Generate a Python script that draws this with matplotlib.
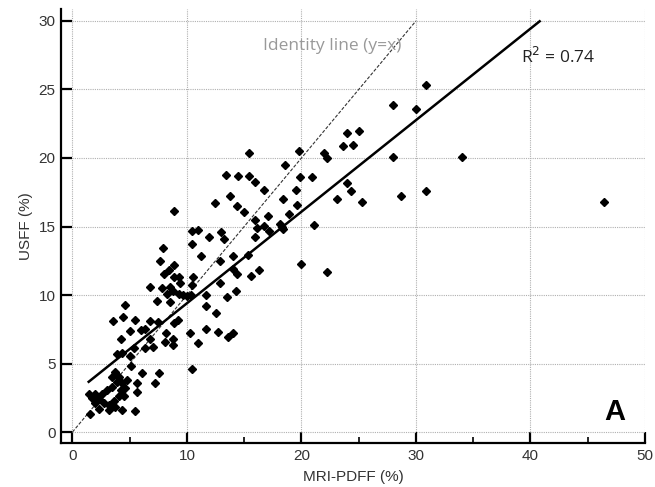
import numpy as np
import matplotlib
matplotlib.use("Agg")
import matplotlib.pyplot as plt
from matplotlib.ticker import MultipleLocator

# MRI-PDFF (%) vs USFF (%)
mri_pdff = [
    30.9, 28.0, 30.0, 24.0, 25.05, 23.65, 24.47, 28.0, 34.0, 24.0,
    24.3, 23.1, 25.25, 28.7, 30.9, 46.4, 15.46, 19.8, 22.0, 22.2,
    18.57, 14.5, 15.4, 13.4, 15.95, 16.7, 19.9, 20.95, 19.5, 13.8,
    18.4, 19.6, 14.4, 15.0, 18.95, 15.95, 17.06, 18.1, 16.1, 16.7,
    17.2, 18.4, 21.1, 15.9, 18.3, 8.9, 12.47, 10.4, 10.96, 11.97,
    13.0, 13.25, 7.9, 10.4, 7.67, 8.9, 11.25, 12.9, 13.98, 7.96,
    8.46, 8.83, 9.35, 10.5, 14.0, 14.35, 15.3, 9.4, 6.8, 7.8,
    8.5, 8.8, 7.4, 8.5, 9.27, 9.65, 10.0, 10.37, 10.4, 11.7,
    12.9, 13.5, 14.3, 11.7, 12.55, 6.8, 7.5, 8.9, 9.2, 10.3,
    11.7, 12.75, 13.6, 14.0, 8.2, 8.1, 8.8, 11.0, 15.6, 16.3,
    20.0, 22.26, 10.4, 8.25, 4.56, 4.4, 3.5, 5.5, 5.06, 6.0,
    6.36, 4.2, 6.8, 5.4, 7.0, 8.75, 3.9, 4.33, 5.06, 6.3,
    5.1, 6.07, 7.24, 5.64, 5.64, 5.5, 3.75, 3.46, 4.04, 3.9,
    4.33, 4.77, 4.6, 4.2, 3.46, 3.0, 2.6, 1.95, 1.42, 1.7,
    2.3, 2.73, 3.16, 3.6, 3.75, 4.33, 3.16, 2.3, 1.57, 2.0,
    4.04, 4.47, 7.6,
]
usff = [
    25.3, 23.9, 23.6, 21.85, 22.0, 20.9, 20.97, 20.07, 20.07, 18.15,
    17.6, 17.0, 16.8, 17.2, 17.6, 16.8, 20.4, 20.5, 20.4, 19.97,
    19.5, 18.7, 18.7, 18.76, 18.25, 17.7, 18.6, 18.6, 17.7, 17.2,
    17.0, 16.6, 16.5, 16.06, 15.9, 15.5, 15.77, 15.2, 14.87, 15.04,
    14.7, 14.8, 15.1, 14.2, 15.0, 16.1, 16.7, 14.7, 14.75, 14.26,
    14.6, 14.06, 13.4, 13.7, 12.46, 12.2, 12.85, 12.5, 12.85, 11.5,
    11.8, 11.3, 11.3, 11.3, 11.9, 11.5, 12.9, 10.85, 10.56, 10.5,
    10.6, 10.3, 9.6, 9.5, 10.07, 10.0, 9.93, 10.0, 10.7, 10.0,
    10.85, 9.83, 10.3, 9.2, 8.7, 8.1, 8.05, 7.93, 8.2, 7.2,
    7.5, 7.3, 6.96, 7.2, 7.2, 6.6, 6.8, 6.5, 11.4, 11.8,
    12.3, 11.7, 4.6, 10.1, 9.3, 8.37, 8.1, 8.2, 7.4, 7.45,
    7.5, 6.8, 6.8, 6.1, 6.2, 6.35, 5.7, 5.8, 5.55, 6.1,
    4.8, 4.3, 3.6, 3.6, 2.95, 1.56, 4.4, 4.04, 4.04, 3.67,
    3.55, 3.8, 3.2, 3.07, 3.3, 3.07, 2.8, 2.8, 2.8, 2.45,
    2.4, 2.1, 1.97, 2.3, 1.85, 1.6, 1.6, 1.7, 1.3, 2.1,
    2.6, 2.6, 4.33,
]

# regression line
fit_slope = 0.668
fit_intercept = 2.72
fit_x = np.array([1.42, 40.8])
identity_x = np.array([0, 30])

fig = plt.figure(figsize=(6.55, 4.87), dpi=100)
ax = fig.add_axes([0.0931, 0.0903, 0.8916, 0.892])

ax.plot(mri_pdff, usff, linestyle='none', marker='D', markersize=4.4,
        color='black', zorder=3)
ax.plot(identity_x, identity_x, linestyle=(0, (3, 1.5)), color='#333333',
        linewidth=0.8, zorder=2)
ax.plot(fit_x, fit_slope * fit_x + fit_intercept, color='black',
        linewidth=1.8, zorder=2)

ax.text(16.6, 28.2, 'Identity line (y=x)', color='#999999', fontsize=12.5,
        family='Open Sans', va='center')
ax.text(39.2, 27.4, 'R$^2$ = 0.74', color='#222222', fontsize=12.5,
        family='Open Sans', va='center')
ax.text(47.4, 1.5, 'A', fontsize=21, fontweight='bold', family='Liberation Sans',
        ha='center', va='center')

ax.set_xlim(-1, 50)
ax.set_ylim(-0.8, 30.9)
ax.xaxis.set_major_locator(MultipleLocator(10))
ax.xaxis.set_minor_locator(MultipleLocator(5))
ax.yaxis.set_major_locator(MultipleLocator(5))

ax.grid(True, which='major', linestyle=(0, (1, 1)), color='#b0b0b0', linewidth=0.8)
ax.set_axisbelow(True)

for side in ['top', 'right']:
    ax.spines[side].set_visible(False)
for side in ['left', 'bottom']:
    ax.spines[side].set_linewidth(1.6)

ax.tick_params(which='major', direction='in', length=8, width=1.6,
               labelsize=11, labelcolor='#333333', pad=4)
ax.tick_params(which='minor', direction='in', length=4, width=1.2)
for lab in ax.get_xticklabels() + ax.get_yticklabels():
    lab.set_family('Liberation Sans')

ax.set_xlabel('MRI-PDFF (%)', fontsize=11, color='#333333',
              family='Liberation Sans', labelpad=5)
ax.set_ylabel('USFF (%)', fontsize=11, color='#333333',
              family='Liberation Sans', labelpad=4)

fig.savefig('out.png', dpi=100)
